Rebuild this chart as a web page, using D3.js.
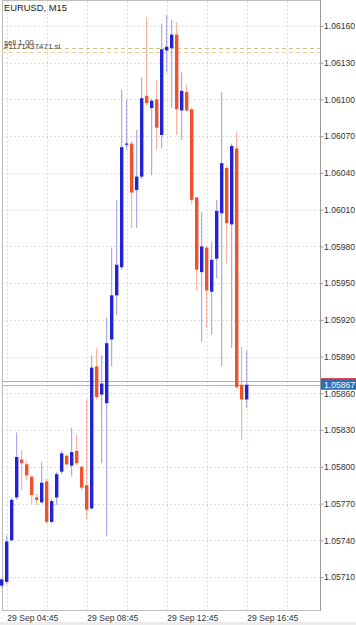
<!DOCTYPE html>
<html>
<head>
<meta charset="utf-8">
<script src="https://cdn.jsdelivr.net/npm/d3@7"></script>
<style>
  body { margin: 0; background: #fff; }
  svg { display: block; font-family: "Liberation Sans", Arial, sans-serif; }
</style>
</head>
<body>
<div id="chart"></div>
<script>
//Size of the page and of the plot frame.
let w = 356
let h = 625
let frameLeft = 2
let frameRight = 320
let frameTop = 1
let frameBottom = 611

//Instrument and order info.
let symbol = "EURUSD, M15"
let orderLabels = ["sell 1.00", "#1171437471 sl"]
let orderPrices = [1.06139, 1.06142]
let bid = 1.05867
let ask = 1.05870

//Bar times (29 Sep, 15 minute bars).
let day = "2023-09-29"
let times = ["04:30","04:45","05:00","05:15","05:30","05:45","06:00","06:15","06:30","06:45",
             "07:00","07:15","07:30","07:45","08:00","08:15","08:30","08:45","09:00","09:15",
             "09:30","09:45","10:00","10:15","10:30","10:45","11:00","11:15","11:30","11:45",
             "12:00","12:15","12:30","12:45","13:00","13:15","13:30","13:45","14:00","14:15",
             "14:30","14:45","15:00","15:15","15:30","15:45","16:00","16:15","16:30","16:45"]

//OHLC values.
let open  = [1.05703,1.05706,1.05740,1.05775,1.05806,1.05802,1.05792,1.05775,1.05771,1.05788,
             1.05755,1.05775,1.05796,1.05809,1.05801,1.05813,1.05800,1.05785,1.05766,1.05882,
             1.05859,1.05852,1.05904,1.05940,1.05963,1.06063,1.06064,1.06026,1.06037,1.06103,
             1.06093,1.06100,1.06071,1.06140,1.06142,1.06153,1.06091,1.06106,1.06092,1.06020,
             1.05959,1.05979,1.05943,1.05970,1.06007,1.06044,1.05998,1.06060,1.05867,1.05855]
let high  = [1.05709,1.05744,1.05775,1.05828,1.05814,1.05805,1.05793,1.05778,1.05804,1.05790,
             1.05774,1.05796,1.05813,1.05810,1.05832,1.05826,1.05801,1.05855,1.05891,1.05897,
             1.05891,1.05922,1.05979,1.06018,1.06108,1.06100,1.06066,1.06075,1.06118,1.06167,
             1.06101,1.06116,1.06162,1.06169,1.06165,1.06163,1.06122,1.06112,1.06094,1.06020,
             1.06008,1.05980,1.05984,1.06018,1.06106,1.06046,1.06064,1.06073,1.05898,1.05895]
let low   = [1.05701,1.05704,1.05739,1.05773,1.05781,1.05789,1.05770,1.05769,1.05770,1.05753,
             1.05754,1.05769,1.05794,1.05801,1.05792,1.05801,1.05781,1.05757,1.05765,1.05855,
             1.05803,1.05743,1.05882,1.05924,1.05961,1.06059,1.05995,1.05995,1.06035,1.06095,
             1.06038,1.06059,1.06060,1.06122,1.06093,1.06071,1.06067,1.06090,1.06015,1.05944,
             1.05902,1.05913,1.05908,1.05954,1.05882,1.05966,1.05897,1.05864,1.05822,1.05848]
let close = [1.05708,1.05739,1.05773,1.05808,1.05803,1.05793,1.05777,1.05773,1.05787,1.05755,
             1.05772,1.05794,1.05811,1.05802,1.05812,1.05803,1.05783,1.05765,1.05881,1.05857,
             1.05868,1.05901,1.05940,1.05965,1.06061,1.06064,1.06024,1.06037,1.06101,1.06097,
             1.06099,1.06077,1.06141,1.06143,1.06153,1.06092,1.06107,1.06091,1.06018,1.05961,
             1.05980,1.05944,1.05969,1.06009,1.06048,1.05999,1.06062,1.05865,1.05855,1.05867]

//Axis ticks.
let priceTicks = [1.06160,1.06130,1.06100,1.06070,1.06040,1.06010,1.05980,1.05950,
                  1.05920,1.05890,1.05860,1.05830,1.05800,1.05770,1.05740,1.05710]
let timeLabels = ["04:45","08:45","12:45","16:45"]
let gridTimes = ["04:45","06:45","08:45","10:45","12:45","14:45","16:45","18:45"]

//Colors.
let upBody = "#2323d6"
let downBody = "#f2512b"
let upWick = "#9a9ae6"
let downWick = "#f4a58c"

const parse = d3.timeParse("%Y-%m-%d %H:%M")
const toDate = (t) => parse(day + " " + t)

let bars = times.map((t, i) => ({
  t: toDate(t), o: open[i], h: high[i], l: low[i], c: close[i]
}))

const svg = d3.select("#chart")
              .append("svg")
              .attr("width", w)
              .attr("height", h)

//Time scale: 5px per 15 minute bar.
const t0 = toDate("04:30")
const x = d3.scaleTime()
            .domain([t0, d3.timeMinute.offset(t0, 15 * 63.6)])
            .range([1.7, 319.7])

const y = d3.scaleLinear()
            .domain([1.06160, 1.05710])
            .range([26, 577])

//Gray strip at the very bottom.
svg.append("rect")
   .attr("x", 0).attr("y", 622).attr("width", w).attr("height", 3)
   .attr("fill", "#ececec")

//Grid lines.
const grid = svg.append("g").attr("class", "grid")
grid.selectAll("line.h")
    .data(priceTicks)
    .enter()
    .append("line")
    .attr("class", "h")
    .attr("x1", frameLeft).attr("x2", frameRight)
    .attr("y1", (d) => Math.round(y(d)) + 0.5)
    .attr("y2", (d) => Math.round(y(d)) + 0.5)
    .attr("stroke", "#dedede")
    .attr("stroke-dasharray", "2,2")

grid.selectAll("line.v")
    .data(gridTimes)
    .enter()
    .append("line")
    .attr("class", "v")
    .attr("x1", (d) => Math.round(x(toDate(d))) + 0.5)
    .attr("x2", (d) => Math.round(x(toDate(d))) + 0.5)
    .attr("y1", frameTop).attr("y2", frameBottom)
    .attr("stroke", "#dedede")
    .attr("stroke-dasharray", "2,2")

//Frame.
svg.append("rect")
   .attr("x", frameLeft + 0.5).attr("y", frameTop - 0.5)
   .attr("width", frameRight - frameLeft).attr("height", frameBottom - frameTop)
   .attr("fill", "none")
   .attr("stroke", "#bdbdbd")

//Order lines (dashed) and their labels.
svg.selectAll("line.order")
   .data(orderPrices)
   .enter()
   .append("line")
   .attr("class", "order")
   .attr("x1", frameLeft).attr("x2", frameRight)
   .attr("y1", (d) => Math.round(y(d)) + 0.5)
   .attr("y2", (d) => Math.round(y(d)) + 0.5)
   .attr("stroke", (d, i) => i == 0 ? "#ddd5a8" : "#cfc28a")
   .attr("stroke-dasharray", "4,3")

svg.selectAll("text.order")
   .data(orderLabels)
   .enter()
   .append("text")
   .attr("class", "order")
   .attr("x", 4)
   .attr("y", (d, i) => y(orderPrices[1]) - 3 + i * 3.5)
   .attr("font-size", "8px")
   .attr("fill", "#444")
   .text((d) => d)

//Bid and ask lines.
svg.append("line")
   .attr("x1", frameLeft).attr("x2", frameRight)
   .attr("y1", Math.round(y(ask)) + 0.5).attr("y2", Math.round(y(ask)) + 0.5)
   .attr("stroke", "#eb9a9a")
svg.append("line")
   .attr("x1", frameLeft).attr("x2", frameRight)
   .attr("y1", Math.round(y(bid)) + 0.5).attr("y2", Math.round(y(bid)) + 0.5)
   .attr("stroke", "#b4b4c8")

//Candles: wicks first, then bodies.
const bw = 3.4
const candles = svg.append("g").attr("class", "candles")
candles.selectAll("line")
       .data(bars)
       .enter()
       .append("line")
       .attr("x1", (d) => x(d.t)).attr("x2", (d) => x(d.t))
       .attr("y1", (d) => y(d.h)).attr("y2", (d) => y(d.l))
       .attr("stroke", (d) => d.c >= d.o ? upWick : downWick)
       .attr("stroke-width", 1)

candles.selectAll("rect")
       .data(bars)
       .enter()
       .append("rect")
       .attr("x", (d) => x(d.t) - bw / 2)
       .attr("width", bw)
       .attr("y", (d) => y(Math.max(d.o, d.c)))
       .attr("height", (d) => Math.max(1.2, Math.abs(y(d.o) - y(d.c))))
       .attr("fill", (d) => d.c >= d.o ? upBody : downBody)

//Price axis on the right.
const yAxis = d3.axisRight(y)
                .tickValues(priceTicks)
                .tickSize(3)
                .tickFormat(d3.format(".5f"))
const ya = svg.append("g")
              .attr("transform", "translate(" + (frameRight + 0.5) + ",0)")
              .call(yAxis)
ya.select(".domain").attr("stroke", "#9a9a9a").attr("d", "M0," + (frameTop - 1) + "V" + frameBottom)
ya.selectAll(".tick line").attr("stroke", "#9a9a9a")
ya.selectAll(".tick text")
  .attr("x", 3.5)
  .attr("font-size", "8.6px")
  .attr("font-family", "Liberation Sans, Arial, sans-serif")
  .attr("fill", "#333")

//Current price label.
svg.append("rect")
   .attr("x", frameRight + 1).attr("y", y(ask) - 3)
   .attr("width", w - frameRight).attr("height", 2)
   .attr("fill", "#d63a3a")
svg.append("rect")
   .attr("x", frameRight + 1).attr("y", y(bid) - 5)
   .attr("width", w - frameRight).attr("height", 10)
   .attr("fill", "#2e6db4")
svg.append("text")
   .attr("x", frameRight + 4).attr("y", y(bid) + 3.2)
   .attr("font-size", "8.6px")
   .attr("fill", "#fff")
   .text(d3.format(".5f")(bid))

//Time axis along the bottom.
const xAxis = d3.axisBottom(x)
                .tickValues(timeLabels.map(toDate))
                .tickSize(0)
                .tickFormat(d3.timeFormat("%d %b %H:%M"))
const xa = svg.append("g")
              .attr("transform", "translate(0," + frameBottom + ")")
              .call(xAxis)
xa.select(".domain").remove()
xa.selectAll(".tick text")
  .attr("text-anchor", "start")
  .attr("dy", 0)
  .attr("y", 10)
  .attr("font-size", "8.6px")
  .attr("font-family", "Liberation Sans, Arial, sans-serif")
  .attr("fill", "#333")

//Symbol title.
svg.append("text")
   .attr("x", 4).attr("y", 11)
   .attr("font-size", "9.4px")
   .attr("fill", "#222")
   .text(symbol)
</script>
</body>
</html>
